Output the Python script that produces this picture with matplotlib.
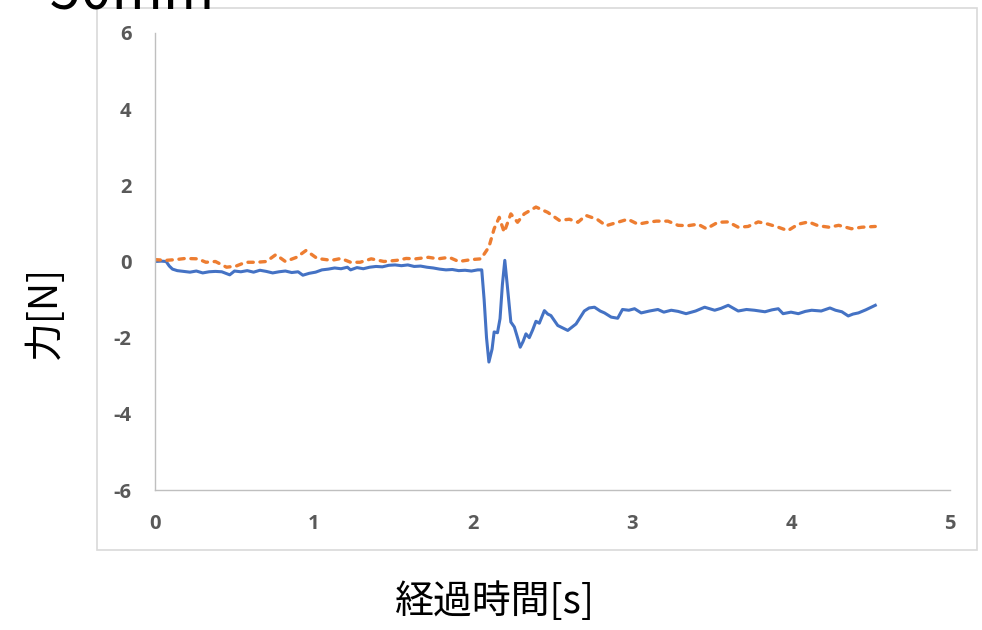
import matplotlib
matplotlib.use("Agg")
import matplotlib.pyplot as plt
from matplotlib.patches import Rectangle

plt.rcParams['font.family'] = ['Noto Sans CJK JP', 'DejaVu Sans']
plt.rcParams['axes.unicode_minus'] = False

# Force trace A (solid blue)
t_a = [0, 0.04, 0.07, 0.09, 0.11, 0.14, 0.18, 0.22, 0.26, 0.3, 0.34, 0.38, 0.42, 0.47,
       0.5, 0.54, 0.58, 0.62, 0.66, 0.7, 0.74, 0.78, 0.82, 0.86, 0.9, 0.93, 0.97, 1.01,
       1.05, 1.09, 1.13, 1.17, 1.21, 1.23, 1.27, 1.31, 1.35, 1.39, 1.43, 1.47, 1.51, 1.55,
       1.59, 1.63, 1.67, 1.71, 1.75, 1.79, 1.83, 1.87, 1.91, 1.95, 1.99, 2.03, 2.055,
       2.07, 2.085, 2.10, 2.12, 2.133, 2.154, 2.17, 2.185, 2.20, 2.215, 2.238, 2.26, 2.28,
       2.297, 2.315, 2.333, 2.354, 2.375, 2.396, 2.417, 2.449, 2.47, 2.49, 2.533, 2.596,
       2.648, 2.70, 2.73, 2.764, 2.80, 2.827, 2.869, 2.91, 2.94, 2.98, 3.016, 3.058, 3.11,
       3.163, 3.2, 3.247, 3.29, 3.34, 3.40, 3.457, 3.52, 3.56, 3.605, 3.668, 3.72, 3.77,
       3.836, 3.88, 3.92, 3.95, 4.0, 4.046, 4.09, 4.13, 4.19, 4.245, 4.28, 4.32, 4.36,
       4.39, 4.424, 4.47, 4.53]
f_a = [0.0, 0.01, 0.0, -0.12, -0.2, -0.24, -0.26, -0.28, -0.25, -0.3, -0.27, -0.26, -0.27, -0.35,
       -0.25, -0.27, -0.24, -0.28, -0.23, -0.26, -0.3, -0.27, -0.25, -0.29, -0.27, -0.36, -0.31, -0.28,
       -0.22, -0.2, -0.17, -0.19, -0.15, -0.22, -0.16, -0.19, -0.15, -0.13, -0.14, -0.1, -0.09, -0.11,
       -0.09, -0.13, -0.12, -0.15, -0.17, -0.2, -0.22, -0.21, -0.24, -0.23, -0.25, -0.22, -0.22,
       -1.0, -2.0, -2.64, -2.3, -1.85, -1.87, -1.5, -0.6, 0.03, -0.6, -1.59, -1.72, -2.0,
       -2.25, -2.1, -1.9, -2.0, -1.8, -1.57, -1.62, -1.29, -1.38, -1.42, -1.68, -1.81,
       -1.64, -1.3, -1.22, -1.2, -1.3, -1.35, -1.46, -1.49, -1.26, -1.28, -1.24, -1.35, -1.3,
       -1.26, -1.33, -1.28, -1.31, -1.37, -1.3, -1.2, -1.28, -1.23, -1.15, -1.3, -1.26, -1.28,
       -1.32, -1.27, -1.24, -1.37, -1.33, -1.37, -1.31, -1.28, -1.3, -1.22, -1.28, -1.32, -1.43,
       -1.38, -1.35, -1.27, -1.15]

# Force trace B (dotted orange)
t_b = [0, 0.07, 0.13, 0.19, 0.27, 0.32, 0.38, 0.45, 0.51, 0.57, 0.64, 0.70, 0.76, 0.82,
       0.89, 0.95, 1.02, 1.11, 1.17, 1.23, 1.29, 1.36, 1.44, 1.52, 1.58, 1.64, 1.72, 1.78,
       1.85, 1.91, 1.99, 2.05, 2.10, 2.133, 2.165, 2.196, 2.238, 2.28, 2.322, 2.396, 2.47,
       2.543, 2.606, 2.66, 2.71, 2.78, 2.837, 2.91, 2.974, 3.037, 3.10, 3.153, 3.226, 3.29,
       3.352, 3.415, 3.468, 3.54, 3.605, 3.668, 3.73, 3.794, 3.857, 3.92, 3.98, 4.046, 4.11,
       4.17, 4.24, 4.30, 4.38, 4.445, 4.53]
f_b = [0.05, 0.03, 0.05, 0.08, 0.07, -0.02, 0.0, -0.15, -0.12, -0.02, -0.02, 0.0, 0.18, 0.0,
       0.11, 0.29, 0.08, 0.03, 0.08, -0.02, -0.02, 0.07, 0.0, 0.03, 0.08, 0.07, 0.11, 0.07,
       0.11, 0.0, 0.05, 0.07, 0.38, 0.86, 1.16, 0.77, 1.25, 1.03, 1.25, 1.43, 1.29,
       1.08, 1.11, 1.03, 1.21, 1.11, 0.94, 1.03, 1.11, 0.98, 1.03, 1.06, 1.06, 0.95,
       0.94, 0.98, 0.86, 1.03, 1.04, 0.9, 0.92, 1.04, 0.98, 0.9, 0.81, 0.98, 1.04,
       0.94, 0.9, 0.95, 0.86, 0.9, 0.92]

x_ticks = [0, 1, 2, 3, 4, 5]
y_ticks = [-6, -4, -2, 0, 2, 4, 6]

W, H = 982, 630
fig = plt.figure(figsize=(W / 100, H / 100), dpi=100)

# chart frame
fig.patches.append(Rectangle((97 / W, 1 - 550 / H), (977 - 97) / W, (550 - 8) / H,
                             transform=fig.transFigure, fill=False,
                             edgecolor='#D9D9D9', linewidth=1.2))

# heading running off the top edge
fig.text(18 / W, 1 - 9 / H, '- 50mm', fontsize=40, color='black',
         ha='left', va='baseline')

ax = fig.add_axes([155 / W, 1 - 490 / H, 795 / W, 457 / H])
ax.plot(t_a, f_a, color='#4472C4', linewidth=2.2, solid_joinstyle='round')
ax.plot(t_b, f_b, color='#ED7D31', linewidth=2.4, linestyle=(0, (1.6, 2.0)),
        dash_capstyle='round')

ax.set_xlim(0, 5)
ax.set_ylim(-6, 6)
ax.set_xticks(x_ticks)
ax.set_yticks(y_ticks)
for s in ('top', 'right'):
    ax.spines[s].set_visible(False)
for s in ('left', 'bottom'):
    ax.spines[s].set_color('#BFBFBF')
    ax.spines[s].set_linewidth(1.0)
ax.tick_params(length=0, labelsize=14.5, labelcolor='#595959')
ax.tick_params(axis='y', pad=17)
ax.tick_params(axis='x', pad=17)
for lab in ax.get_xticklabels() + ax.get_yticklabels():
    lab.set_fontweight('bold')
    lab.set_family(['Liberation Sans Narrow', 'Open Sans', 'DejaVu Sans'])

fig.text(495 / W, 1 - 602 / H, '経過時間[s]', fontsize=28, ha='center', va='center')
fig.text(45 / W, 1 - 312 / H, '力[N]', fontsize=28, ha='center', va='center',
         rotation=90)

fig.savefig('out.png', dpi=100)
